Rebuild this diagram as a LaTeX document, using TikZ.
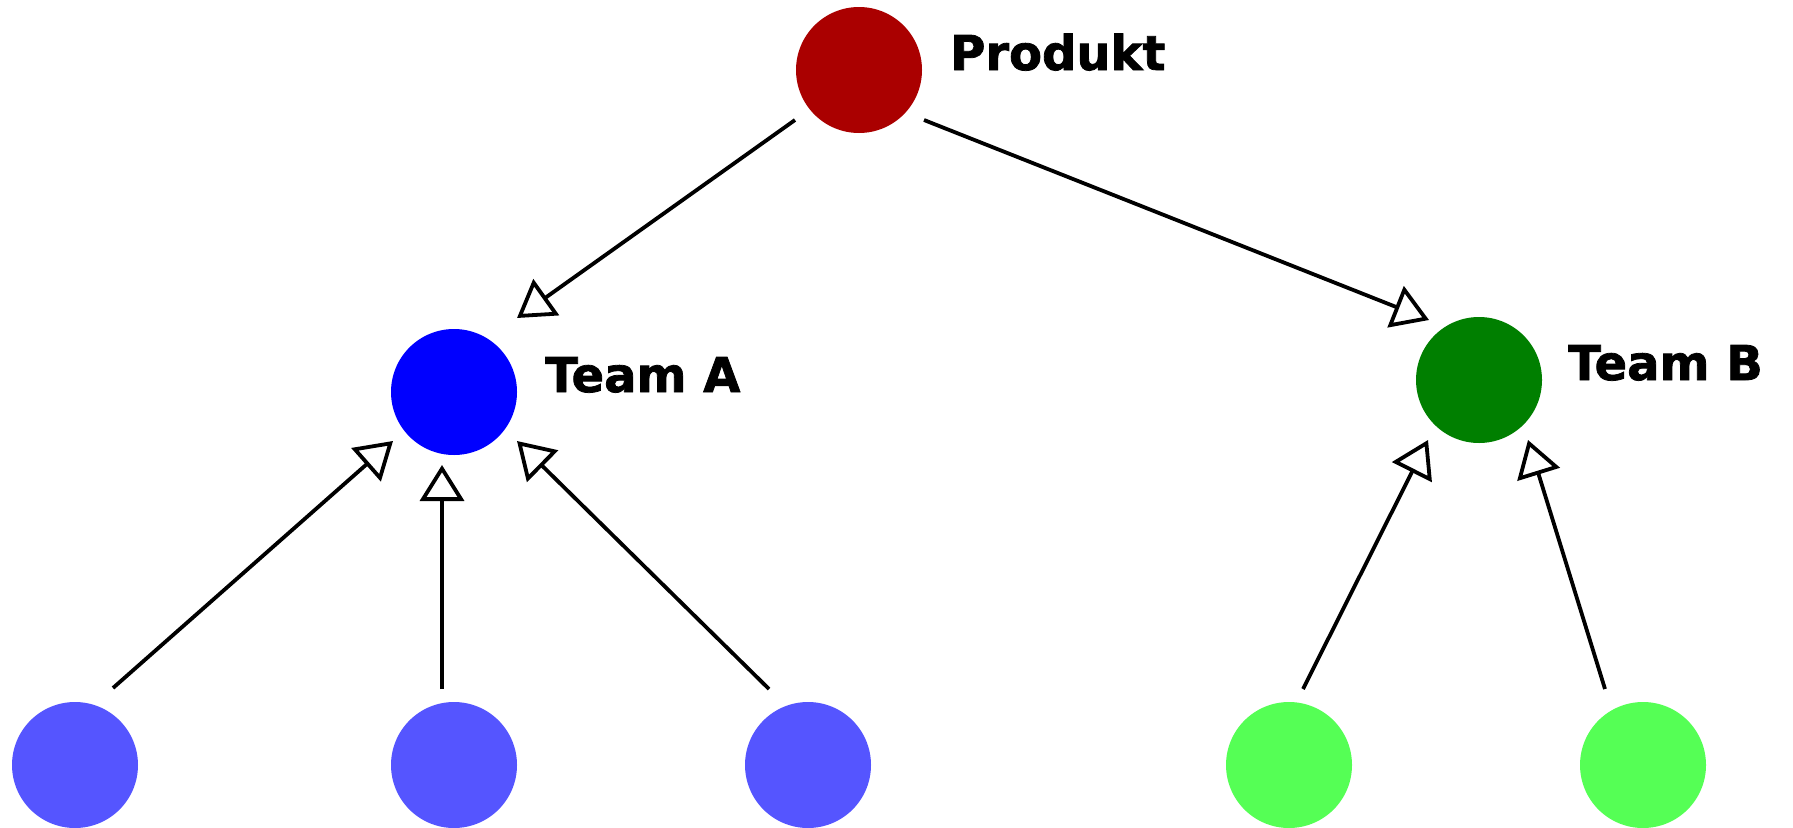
\documentclass[tikz,border=0pt]{standalone}
\usepackage{fontspec}
\newfontfamily\heavyfont[FakeBold=1.6]{DejaVu Sans Bold}
\usetikzlibrary{arrows.meta,calc}
\definecolor{prodred}{HTML}{AA0000}
\definecolor{teamblue}{HTML}{0000FF}
\definecolor{teamgreen}{HTML}{007F00}
\definecolor{leafblue}{HTML}{5555FF}
\definecolor{leafgreen}{HTML}{55FF55}
\tikzset{
  dot/.style={circle, minimum size=126pt, inner sep=0pt, draw=none},
  lbl/.style={anchor=base west, inner sep=0pt, font=\heavyfont\fontsize{48}{56}\selectfont},
  conn/.style={line width=3.8pt, -{Triangle[open, length=36pt, width=44pt, line width=3.8pt]}},
}
\begin{document}
\begin{tikzpicture}[x=1pt,y=-1pt]
\useasboundingbox (0,0) rectangle (1793,827);
\node[dot, fill=prodred] (prod) at (859,70) {};
\node[dot, fill=teamblue] (ta) at (454,392) {};
\node[dot, fill=teamgreen] (tb) at (1479,380) {};
\node[dot, fill=leafblue] (a1) at (75,765) {};
\node[dot, fill=leafblue] (a2) at (454,765) {};
\node[dot, fill=leafblue] (a3) at (808,765) {};
\node[dot, fill=leafgreen] (b1) at (1289,765) {};
\node[dot, fill=leafgreen] (b2) at (1643,765) {};
\node[lbl] (lprod) at ($(prod)+(91,0)$) {Produkt};
\node[lbl] (lta) at ($(ta)+(91,0)$) {Team A};
\node[lbl] (ltb) at ($(tb)+(89,0)$) {Team B};
\draw[conn] ($(prod)+(-64,50)$) -- ($(ta)+(63,-74)$);
\draw[conn] ($(prod)+(65,50)$) -- ($(tb)+(-50,-60)$);
\draw[conn] ($(a1)+(38,-77)$) -- ($(ta)+(-61,49)$);
\draw[conn] ($(a2)+(-12,-76)$) -- ($(ta)+(-12,73)$);
\draw[conn] ($(a3)+(-39,-76)$) -- ($(ta)+(63,49)$);
\draw[conn] ($(b1)+(14,-76)$) -- ($(tb)+(-51,60)$);
\draw[conn] ($(b2)+(-38,-76)$) -- ($(tb)+(49,60)$);
\end{tikzpicture}
\end{document}
